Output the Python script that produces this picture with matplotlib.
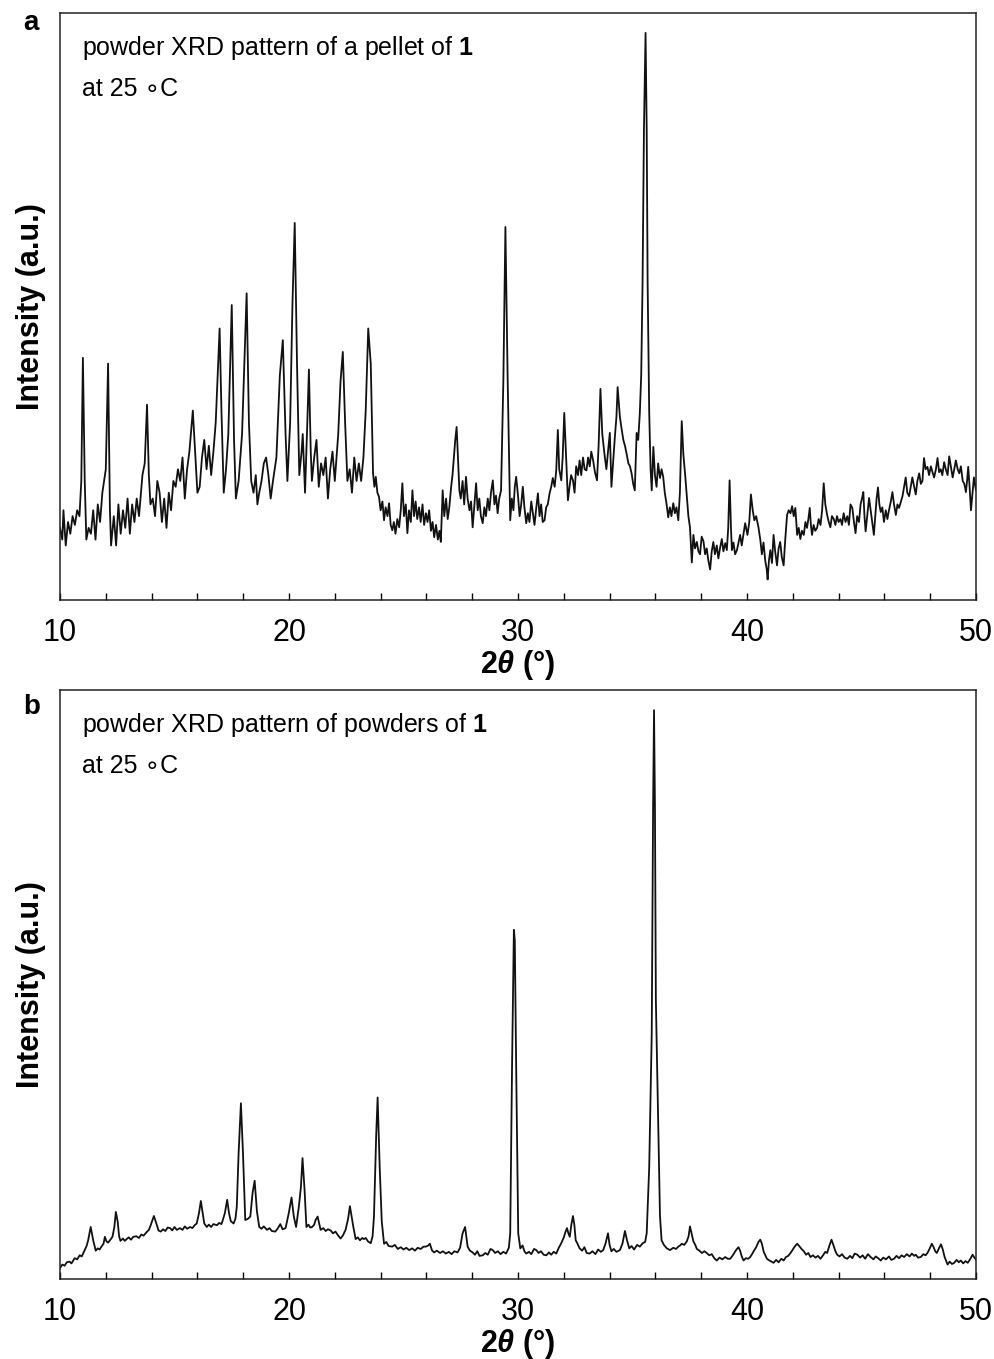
import matplotlib
matplotlib.use('Agg')
import matplotlib.pyplot as plt
from matplotlib.ticker import MultipleLocator

# panel a: pellet of 1 -- 2theta (deg) and intensity (a.u.)
tth_a1 = [10.0, 10.1, 10.15, 10.25, 10.35, 10.45, 10.55, 10.65, 10.75, 10.85,
          10.93, 11.0, 11.08, 11.15, 11.25, 11.35, 11.45, 11.55, 11.65, 11.75,
          11.85, 12.0, 12.1, 12.18, 12.23, 12.35, 12.45, 12.55, 12.65, 12.75,
          12.85, 12.95, 13.05, 13.15, 13.25, 13.35, 13.45, 13.6, 13.7, 13.8,
          13.88, 13.95, 14.05, 14.15, 14.25, 14.35, 14.45, 14.55, 14.65, 14.75,
          14.85, 14.95, 15.05, 15.15, 15.25, 15.35, 15.45, 15.55, 15.65, 15.8,
          15.9, 16.0, 16.1, 16.2, 16.3, 16.4, 16.5, 16.6, 16.7, 16.8,
          16.97, 17.05, 17.15, 17.25, 17.35, 17.5, 17.6, 17.68, 17.8, 17.95,
          18.15, 18.25, 18.35, 18.45, 18.55, 18.62, 18.7, 18.8, 18.9, 19.0,
          19.1, 19.2, 19.3, 19.45, 19.6, 19.73, 19.85, 19.93, 20.05, 20.15,
          20.25, 20.35, 20.45, 20.55, 20.6, 20.7, 20.8, 20.87, 20.95, 21.0,
          21.1, 21.2, 21.3, 21.4, 21.5, 21.6, 21.7, 21.8, 21.9, 22.0,
          22.15, 22.25, 22.35, 22.45, 22.55, 22.65, 22.75, 22.85, 22.95, 23.05,
          23.15, 23.25, 23.35, 23.46, 23.57]
int_a1 = [12, 10, 15, 9, 13, 11, 14, 12.5, 15, 14,
          20, 41, 20, 10, 12, 11, 15, 10, 16, 13,
          18, 22, 40, 15, 9, 14, 9, 16, 11, 15,
          12, 17, 11, 16, 13, 17, 14, 21, 23, 33,
          21, 16, 17, 14, 20, 18, 13, 17, 12, 18,
          15, 20, 19, 22, 20, 24, 17, 22, 25, 32,
          25, 18, 19, 24, 27, 22, 26, 21, 25, 30,
          46, 32, 18, 22, 28, 50, 27, 17, 20, 28,
          52, 30, 20, 18, 21, 16, 18, 20, 23, 24,
          21, 17, 20, 24, 38, 44, 28, 20, 30, 50,
          64, 40, 21, 25, 28, 18, 30, 39, 25, 20,
          24, 27, 19, 23, 21, 24, 17, 22, 25, 20,
          28, 37, 42, 30, 20, 22, 18, 24, 20, 23,
          20, 24, 32, 46, 40]

tth_a2 = [23.67, 23.73, 23.79, 23.86, 23.93, 24.0, 24.08, 24.15, 24.22, 24.3,
          24.37, 24.44, 24.51, 24.58, 24.65, 24.73, 24.81, 24.88, 24.95, 25.02,
          25.1, 25.17, 25.24, 25.32, 25.39, 25.46, 25.53, 25.6, 25.68, 25.75,
          25.83, 25.9, 25.98, 26.05, 26.12, 26.2, 26.27, 26.34, 26.42, 26.5,
          26.57, 26.63, 26.71, 26.78, 26.86, 26.93, 27.0, 27.08, 27.14, 27.19,
          27.26, 27.32, 27.38, 27.44, 27.5, 27.58, 27.65, 27.73, 27.8, 27.88,
          27.95, 28.02, 28.1, 28.17, 28.24, 28.31, 28.38, 28.46, 28.53, 28.6,
          28.68, 28.75, 28.82, 28.9, 28.97, 29.04, 29.11, 29.18, 29.26]
int_a2 = [21.3, 19, 20.7, 18, 17.3, 15, 16.5, 13.3, 15.5, 14,
          16.2, 12.5, 11.6, 13, 11, 13.5, 12.1, 15, 19.6, 14,
          16, 11.1, 15, 13, 18.4, 14, 16.5, 13.5, 15.5, 13,
          16, 12.5, 14.5, 13, 15, 11.5, 13, 10.4, 12.5, 10,
          11.5, 9.6, 18.4, 14, 17, 13.5, 15.5, 19, 21, 23.5,
          27, 29.2, 24, 18.4, 17, 20, 16, 20.7, 17, 15,
          16.5, 12.1, 16, 19.6, 15, 17, 14, 12.8, 15.5, 14,
          17, 15, 18, 20.1, 16, 17.5, 14.5, 17, 18.4]

tth_a3 = [29.36, 29.45, 29.55, 29.66, 29.73, 29.8, 29.86, 29.92, 30.0, 30.07,
          30.14, 30.21, 30.28, 30.36, 30.43, 30.5, 30.58, 30.65, 30.72, 30.8,
          30.87, 30.94, 31.01, 31.08, 31.16, 31.23, 31.3, 31.38, 31.45, 31.52,
          31.6, 31.67, 31.74, 31.8, 31.89, 31.95, 32.02, 32.1, 32.18, 32.25,
          32.32, 32.4, 32.47, 32.54, 32.62, 32.69, 32.76, 32.84, 32.91, 32.99,
          33.06, 33.13, 33.2, 33.28, 33.36, 33.45, 33.52, 33.6, 33.68, 33.79,
          33.86, 33.93, 34.01, 34.08, 34.15, 34.23, 34.3, 34.35, 34.45, 34.52,
          34.6, 34.67, 34.74, 34.82, 34.89, 34.96, 35.03, 35.1, 35.18, 35.25,
          35.32, 35.38, 35.44, 35.5, 35.57, 35.62, 35.66, 35.73, 35.79, 35.84,
          35.91, 35.98, 36.05, 36.12, 36.2, 36.27, 36.34, 36.41, 36.49, 36.56,
          36.63, 36.7, 36.78, 36.85, 36.92, 37.0]
int_a3 = [37, 63.3, 37, 13.3, 17, 15, 19, 20.7, 17.5, 14,
          16, 19, 15.5, 12.8, 14.5, 13, 16.5, 14.5, 12.5, 15.5,
          17.9, 14, 16, 13, 13.3, 15.5, 16, 17.9, 19, 20.5,
          19, 21.8, 28.7, 22, 20.1, 24, 31.6, 24, 16.7, 19,
          21, 20.1, 18, 22.5, 21, 23.5, 21, 24, 22, 21.8,
          24, 22.5, 25, 23.5, 21.5, 20.1, 26, 35.7, 28, 24.1,
          22, 25, 28.2, 19, 23, 27.5, 31, 36, 30.9, 29,
          27, 26, 24.7, 23, 22.5, 21.3, 19.5, 18.4, 28.2, 27,
          31.6, 38, 54, 80, 96.4, 80, 54, 31.6, 22, 18.4,
          25.8, 21, 19, 23, 20.5, 22, 20.7, 18, 16, 13.8,
          15.5, 14, 16.2, 14.5, 15.5, 13.3]

tth_a4 = [37.07, 37.15, 37.22, 37.3, 37.37, 37.44, 37.51, 37.59, 37.66, 37.73,
          37.81, 37.88, 37.95, 38.02, 38.1, 38.17, 38.24, 38.31, 38.39, 38.46,
          38.53, 38.6, 38.68, 38.75, 38.82, 38.9, 38.97, 39.05, 39.12, 39.18,
          39.24, 39.3, 39.34, 39.41, 39.48, 39.56, 39.63, 39.7, 39.77, 39.85,
          39.92, 40.02, 40.1, 40.17, 40.25, 40.32, 40.4, 40.5, 40.58, 40.65,
          40.72, 40.8, 40.86, 40.9, 40.96, 41.02, 41.09, 41.16, 41.23, 41.31,
          41.38, 41.45, 41.52, 41.6, 41.67, 41.75, 41.82, 41.9, 41.97, 42.04,
          42.11, 42.19, 42.26, 42.33, 42.4, 42.48, 42.55, 42.62, 42.68, 42.74,
          42.79, 42.84, 42.91, 42.98, 43.06, 43.13, 43.21, 43.28, 43.35, 43.42,
          43.5, 43.57, 43.64, 43.71, 43.79, 43.86, 43.93, 44.0, 44.08, 44.15,
          44.22, 44.3, 44.38, 44.45, 44.52, 44.6, 44.67, 44.74, 44.81, 44.89,
          44.96, 45.02, 45.08, 45.13, 45.18, 45.25, 45.33, 45.4, 45.47, 45.54,
          45.6, 45.66, 45.72, 45.78, 45.84, 45.91, 45.98, 46.06, 46.13, 46.2,
          46.28, 46.35, 46.42, 46.5, 46.57, 46.64, 46.72, 46.79, 46.86, 46.93,
          47.0, 47.08, 47.15, 47.22, 47.3, 47.37, 47.44, 47.52, 47.59, 47.66,
          47.73, 47.8, 47.88, 47.95, 48.03, 48.1, 48.17, 48.25, 48.32, 48.39,
          48.46, 48.53, 48.61, 48.68, 48.76, 48.83, 48.9, 48.98, 49.05, 49.12,
          49.2, 49.27, 49.34, 49.42, 49.49, 49.56, 49.61, 49.66, 49.72, 49.78,
          49.85, 49.91, 50.0]
int_a4 = [18, 30.2, 24.6, 21, 17.4, 14, 12.1, 6.1, 10.8, 8.5,
          9.6, 8, 7.5, 10.5, 9.7, 7.5, 8.5, 6.5, 4.9, 8,
          9.6, 7.5, 9, 6.8, 8.5, 10.1, 8, 9.4, 8.2, 12,
          20.1, 12, 8.2, 9.5, 7.5, 8.2, 9.5, 10.8, 9, 11,
          12.8, 10.8, 13, 17.7, 15, 13.3, 14, 12.1, 10, 7.5,
          9.5, 6.3, 5, 3.2, 6.5, 8.2, 6, 10.8, 8, 5.6,
          8.5, 9.6, 7, 5.6, 10, 14.2, 15, 14.5, 15.7, 14,
          15.4, 10.8, 12, 10.1, 11.5, 10.8, 13, 12, 13.5, 15.4,
          12.5, 10.8, 12.5, 11.5, 12, 13.5, 12.5, 15, 19.6, 16,
          14.2, 13, 12.1, 14, 13.5, 12.5, 14, 13, 13.5, 12.5,
          14.5, 13, 14, 12.5, 16, 15.4, 13, 11.1, 14, 13,
          16, 17, 18.1, 14, 11.4, 14, 17.1, 15, 13, 10.8,
          14, 17, 18.9, 16, 14.7, 15.5, 13, 15, 13.5, 15,
          16.5, 18.1, 16, 14.2, 16, 15.4, 16.5, 17.4, 19, 20.6,
          18, 17.4, 19, 20.6, 19, 17.7, 20, 21.3, 19.5, 20,
          23.9, 22, 22.4, 21, 22.5, 21.5, 20.6, 22, 23.9, 21.5,
          22, 21, 23.2, 22, 21, 24.2, 22.5, 20.6, 22, 23.5,
          22, 21.3, 22.5, 20, 19.5, 18.1, 20, 22.4, 19, 15,
          18, 20.6, 18.4]

# panel b: powders of 1
tth_b1 = [10.0, 10.1, 10.2, 10.3, 10.42, 10.5, 10.64, 10.75, 10.86, 10.95,
          11.08, 11.16, 11.23, 11.34, 11.45, 11.56, 11.65, 11.73, 11.81, 11.9,
          11.96, 12.03, 12.1, 12.2, 12.29, 12.37, 12.44, 12.52, 12.58, 12.64,
          12.75, 12.83, 12.91, 13.0, 13.1, 13.2, 13.34, 13.45, 13.55, 13.65,
          13.78, 13.88, 13.96, 14.1, 14.2, 14.3, 14.4, 14.5, 14.6, 14.7,
          14.81, 14.9, 15.0, 15.1, 15.24, 15.35, 15.45, 15.55, 15.68, 15.78,
          15.88, 15.97, 16.07, 16.15, 16.23, 16.3, 16.41, 16.5, 16.6, 16.7,
          16.85, 16.95, 17.05, 17.11, 17.2, 17.3, 17.38, 17.46, 17.58, 17.66,
          17.72, 17.8, 17.9, 17.99, 18.09, 18.2, 18.31, 18.41, 18.5, 18.6,
          18.7, 18.8, 18.9, 19.04, 19.15, 19.25, 19.4, 19.5, 19.62, 19.72,
          19.85, 19.99, 20.11, 20.21, 20.31, 20.43, 20.52, 20.59, 20.68, 20.76,
          20.85, 20.93, 21.01, 21.1, 21.16, 21.25, 21.38, 21.5, 21.6, 21.7,
          21.82, 21.92, 22.03, 22.15, 22.25, 22.35, 22.47, 22.58, 22.66, 22.75,
          22.81, 22.91, 23.0, 23.1, 23.2, 23.27, 23.35, 23.45, 23.57]
int_b1 = [0, 0.6, 0.4, 1.0, 1.1, 0.8, 1.7, 1.5, 2.2, 2.0,
          3.1, 3.8, 4.8, 7.1, 4.8, 3.0, 3.4, 3.2, 3.7, 4.2,
          5.4, 4.6, 4.4, 4.9, 5.4, 7.0, 9.7, 8.0, 5.5, 4.7,
          5.1, 4.7, 5.0, 5.3, 4.9, 5.4, 5.5, 5.2, 5.8, 5.6,
          6.2, 6.6, 7.4, 9.0, 7.8, 6.5, 6.3, 6.7, 6.4, 7.0,
          6.9, 6.5, 7.1, 6.6, 6.9, 6.6, 7.2, 6.8, 7.1, 6.9,
          7.4, 7.7, 9.5, 11.6, 9.5, 7.7, 7.1, 7.5, 7.1, 7.6,
          7.4, 7.8, 7.6, 8.3, 9.5, 11.8, 9.5, 8.1, 7.7, 8.5,
          10.6, 19.9, 28.5, 19.9, 8.3, 8.5, 8.9, 13.0, 15.1, 9.8,
          7.1, 6.8, 7.2, 6.6, 6.9, 6.4, 6.3, 6.8, 7.6, 6.7,
          6.9, 9.5, 12.2, 8.9, 7.1, 10.6, 14.0, 19.0, 13.5, 7.1,
          7.5, 7.0, 7.1, 7.5, 8.3, 8.9, 6.6, 6.9, 6.4, 6.7,
          6.5, 6.0, 6.3, 5.6, 5.1, 5.6, 6.6, 8.5, 10.7, 8.5,
          7.1, 5.0, 5.3, 4.8, 5.2, 5.0, 5.2, 4.6, 4.3]

tth_b2 = [23.65, 23.71, 23.81, 23.87, 23.96, 24.05, 24.15, 24.25, 24.35, 24.51,
          24.62, 24.75, 24.88, 25.0, 25.12, 25.25, 25.38, 25.5, 25.62, 25.75,
          25.88, 25.98, 26.08, 26.15, 26.25, 26.34, 26.45, 26.6, 26.72, 26.85,
          26.98, 27.1, 27.22, 27.36, 27.47, 27.58, 27.69, 27.8, 27.9, 28.02,
          28.12, 28.22, 28.32, 28.46, 28.57, 28.68, 28.8, 28.9, 29.0, 29.12,
          29.24, 29.36, 29.48, 29.6, 29.66, 29.74, 29.82, 29.86, 29.92, 30.01,
          30.1, 30.2, 30.28, 30.36, 30.48, 30.58, 30.7, 30.8, 30.9, 31.0,
          31.12, 31.24, 31.35, 31.45, 31.56, 31.67, 31.78, 31.89, 32.0, 32.07,
          32.14, 32.2, 32.26, 32.33, 32.4, 32.46, 32.52, 32.6, 32.69, 32.8,
          32.9, 33.0, 33.13, 33.25, 33.38, 33.5, 33.62, 33.72, 33.82, 33.93,
          34.0, 34.08, 34.18, 34.3, 34.45, 34.56, 34.67, 34.76, 34.86, 34.96,
          35.07, 35.2, 35.32, 35.45, 35.55, 35.62, 35.73, 35.84, 35.9, 35.94,
          35.98, 36.02, 36.13, 36.2, 36.27]
int_b2 = [5.5, 8.9, 23.3, 29.5, 17.5, 8.1, 4.2, 4.5, 3.8, 3.7,
          4.0, 3.3, 3.6, 3.2, 3.5, 3.1, 3.4, 3.0, 3.5, 3.3,
          3.7, 3.7, 3.9, 4.2, 3.0, 2.7, 3.0, 2.6, 2.9, 2.5,
          2.8, 2.4, 2.9, 2.7, 3.5, 6.0, 7.1, 3.7, 3.0, 2.7,
          2.3, 2.9, 2.1, 2.2, 2.6, 2.3, 3.3, 3.1, 2.6, 2.9,
          2.4, 2.8, 2.5, 3.5, 6.0, 34.8, 58.5, 56.7, 34.8, 6.0,
          3.4, 3.9, 2.9, 2.5, 2.8, 2.4, 3.3, 3.1, 2.6, 2.9,
          2.3, 2.2, 2.7, 2.3, 2.8, 2.5, 3.5, 4.3, 5.3, 6.2,
          6.9, 6.0, 5.4, 7.5, 9.0, 7.5, 4.8, 4.2, 3.4, 3.0,
          3.6, 2.6, 2.5, 2.9, 2.4, 3.2, 2.8, 3.1, 4.2, 6.0,
          4.0, 2.9, 3.3, 2.8, 3.1, 4.2, 6.4, 4.8, 3.4, 3.8,
          3.2, 4.0, 3.7, 4.3, 4.5, 6.0, 17.5, 40.6, 80.0, 96.5,
          80.0, 46.4, 23.1, 9.0, 4.8]

tth_b3 = [36.37, 36.5, 36.64, 36.78, 36.9, 37.0, 37.08, 37.15, 37.26, 37.37,
          37.45, 37.51, 37.58, 37.66, 37.74, 37.81, 37.92, 38.03, 38.14, 38.24,
          38.35, 38.46, 38.57, 38.68, 38.8, 38.92, 39.05, 39.16, 39.27, 39.38,
          39.49, 39.56, 39.63, 39.7, 39.77, 39.85, 39.95, 40.05, 40.14, 40.22,
          40.29, 40.4, 40.5, 40.58, 40.65, 40.73, 40.8, 40.87, 40.98, 41.07,
          41.16, 41.27, 41.38, 41.5, 41.6, 41.7, 41.8, 41.9, 42.0, 42.1,
          42.19, 42.28, 42.38, 42.48, 42.58, 42.68, 42.77, 42.88, 42.99, 43.1,
          43.21, 43.32, 43.42, 43.5, 43.6, 43.69, 43.77, 43.86, 43.94, 44.04,
          44.15, 44.26, 44.38, 44.5, 44.6, 44.7, 44.82, 44.94, 45.05, 45.16,
          45.28, 45.4, 45.52, 45.62, 45.73, 45.84, 45.95, 46.07, 46.2, 46.3,
          46.42, 46.53, 46.64, 46.75, 46.86, 46.98, 47.1, 47.2, 47.3, 47.37,
          47.47, 47.59, 47.7, 47.8, 47.88, 47.97, 48.07, 48.15, 48.22, 48.29,
          48.38, 48.47, 48.55, 48.63, 48.7, 48.76, 48.85, 48.95, 49.05, 49.15,
          49.25, 49.34, 49.44, 49.54, 49.64, 49.74, 49.85, 49.93, 50.0]
int_b3 = [4.0, 3.4, 3.1, 3.5, 3.3, 3.7, 3.9, 4.2, 4.0, 4.6,
          5.5, 7.2, 6.0, 4.6, 4.0, 3.3, 3.0, 2.6, 2.9, 2.6,
          2.2, 2.4, 1.7, 1.3, 1.8, 1.5, 1.9, 1.6, 1.6, 2.2,
          2.9, 3.3, 3.6, 3.0, 2.0, 1.3, 1.7, 1.6, 1.9, 2.4,
          2.9, 3.6, 4.5, 4.9, 4.2, 2.8, 2.2, 1.6, 1.3, 1.1,
          0.9, 1.4, 1.0, 1.6, 1.3, 1.9, 2.1, 2.6, 3.2, 3.8,
          4.2, 3.8, 3.3, 2.9, 2.3, 2.6, 1.9, 2.2, 1.8, 2.1,
          1.6, 2.2, 2.8, 2.6, 3.9, 4.9, 4.0, 2.9, 2.3, 2.0,
          2.4, 1.8, 1.6, 2.1, 1.7, 2.5, 2.3, 1.8, 2.2, 1.6,
          2.4, 1.9, 1.5, 2.0, 1.7, 1.3, 1.8, 1.5, 2.0, 1.4,
          1.6, 2.1, 1.7, 2.2, 1.9, 2.4, 2.0, 2.5, 2.1, 2.3,
          1.8, 1.9, 2.4, 2.2, 2.6, 3.3, 4.2, 3.6, 2.9, 2.6,
          3.4, 4.1, 3.2, 1.9, 1.2, 0.6, 1.1, 0.7, 0.9, 1.4,
          1.0, 1.3, 0.8, 1.2, 0.9, 1.5, 2.3, 1.8, 1.5]

notes_a = ['powder XRD pattern of a pellet of $\\mathbf{1}$', 'at 25 \u2218C']
notes_b = ['powder XRD pattern of powders of $\\mathbf{1}$', 'at 25 \u2218C']

tth_a = tth_a1 + tth_a2 + tth_a3 + tth_a4
int_a = int_a1 + int_a2 + int_a3 + int_a4
tth_b = tth_b1 + tth_b2 + tth_b3
int_b = int_b1 + int_b2 + int_b3

plt.rcParams['font.family'] = ['Liberation Sans', 'DejaVu Sans']
plt.rcParams['mathtext.fontset'] = 'custom'
plt.rcParams['mathtext.rm'] = 'Liberation Sans'
plt.rcParams['mathtext.it'] = 'Liberation Sans:italic:bold'
plt.rcParams['mathtext.bf'] = 'Liberation Sans:bold'

fig = plt.figure(figsize=(9.94, 13.59), dpi=100)
ax_a = fig.add_axes([60 / 994, 1 - 600 / 1359, 916 / 994, 587 / 1359])
ax_b = fig.add_axes([60 / 994, 1 - 1279 / 1359, 916 / 994, 589 / 1359])

panels = [(ax_a, tth_a, int_a, notes_a, (-0.3, 99.8)),
          (ax_b, tth_b, int_b, notes_b, (-1.9, 100.0))]
for ax, x, y, notes, ylim in panels:
    ax.plot(x, y, color='#111111', lw=1.3)
    ax.set_xlim(10, 50)
    ax.set_ylim(*ylim)
    ax.set_yticks([])
    ax.xaxis.set_major_locator(MultipleLocator(10))
    ax.xaxis.set_minor_locator(MultipleLocator(2))
    ax.tick_params(axis='x', which='both', direction='in', length=5, width=1,
                   labelsize=22, pad=13)
    for s in ax.spines.values():
        s.set_linewidth(1.1)
        s.set_color('#222222')
    ax.set_xlabel('2$\\mathit{\\theta}$ (\u00b0)', fontsize=22, fontweight='bold', labelpad=0)
    ax.set_ylabel('Intensity (a.u.)', fontsize=22, fontweight='bold', labelpad=10)
    h = ax.get_position().height * 1359
    ax.text(22 / 916, 1 - 42 / h, notes[0], transform=ax.transAxes, fontsize=18, va='baseline')
    ax.text(22 / 916, 1 - 83 / h, notes[1], transform=ax.transAxes, fontsize=18, va='baseline')

fig.text(23 / 994, 1 - 30 / 1359, 'a', fontsize=20, fontweight='bold', va='baseline')
fig.text(23 / 994, 1 - 714 / 1359, 'b', fontsize=20, fontweight='bold', va='baseline')

fig.savefig('out.png', dpi=100)
